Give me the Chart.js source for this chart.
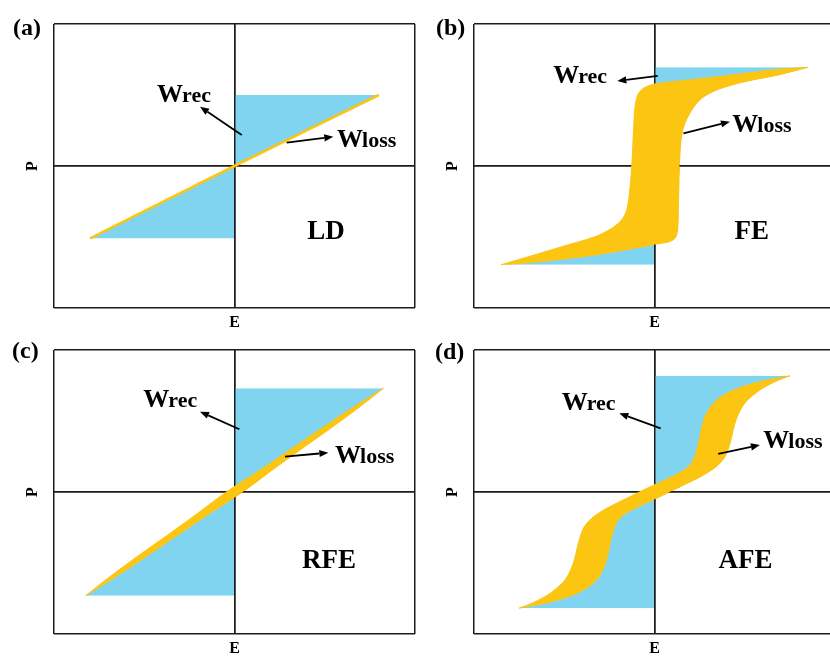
<!DOCTYPE html>
<html>
<head>
<meta charset="utf-8">
<script src="https://cdn.jsdelivr.net/npm/chart.js@4.4.0/dist/chart.umd.min.js"></script>
<style>
  html, body { margin: 0; padding: 0; background: #fff; }
  body { width: 830px; height: 657px; overflow: hidden; position: relative; }
  canvas { position: absolute; }
</style>
</head>
<body>
<canvas id="pa" width="420" height="335" style="left:0;top:0"></canvas>
<canvas id="pb" width="420" height="335" style="left:420px;top:0"></canvas>
<canvas id="pc" width="420" height="335" style="left:0;top:326px"></canvas>
<canvas id="pd" width="420" height="335" style="left:420px;top:326px"></canvas>
<script>
// P–E loops, normalised so that the plot frame spans -1..1 on both axes.
// Each branch lists E against increasing P.

// (a) linear dielectric: a single straight line
const ldP = [-0.51, 0, 0.50];
const ldE = [-0.80, 0, 0.80];

// (b) ferroelectric
const feAscP  = [-0.695, -0.681, -0.657, -0.627, -0.587, -0.552, -0.535, -0.509, -0.451, -0.310, 0, 0.183, 0.289, 0.394, 0.477, 0.540, 0.594, 0.641, 0.695];
const feAscE  = [-0.850, -0.699, -0.514, -0.330, -0.145, 0.000, 0.076, 0.114, 0.128, 0.132, 0.138, 0.147, 0.165, 0.206, 0.261, 0.354, 0.501, 0.686, 0.850];
const feDescP = [-0.695, -0.639, -0.568, -0.498, -0.439, -0.380, -0.310, -0.192, 0, 0.230, 0.418, 0.500, 0.547, 0.577, 0.601, 0.624, 0.653, 0.681, 0.695];
const feDescE = [-0.850, -0.699, -0.514, -0.330, -0.237, -0.182, -0.154, -0.139, -0.126, -0.117, -0.108, -0.093, -0.062, 0.000, 0.151, 0.317, 0.501, 0.686, 0.850];

// (c) relaxor ferroelectric: slim loop
const rfeP     = [-0.73, -0.60, -0.45, -0.30, -0.15, 0, 0.15, 0.30, 0.45, 0.60, 0.73];
const rfeAscE  = [-0.825, -0.662, -0.484, -0.311, -0.136, 0.045, 0.204, 0.367, 0.534, 0.694, 0.825];
const rfeDescE = [-0.825, -0.694, -0.534, -0.367, -0.204, -0.045, 0.136, 0.311, 0.484, 0.662, 0.825];

// (d) antiferroelectric: double loop
const afeAscP  = [-0.818, -0.777, -0.718, -0.648, -0.577, -0.484, -0.343, -0.225, -0.167, -0.113, -0.049, -0.002, 0.056, 0.115, 0.185, 0.256, 0.361, 0.502, 0.620, 0.714, 0.779, 0.818];
const afeAscE  = [-0.750, -0.584, -0.437, -0.345, -0.298, -0.267, -0.243, -0.215, -0.178, -0.104, 0.003, 0.080, 0.173, 0.265, 0.348, 0.394, 0.422, 0.450, 0.496, 0.579, 0.671, 0.750];
const afeDescP = [-0.818, -0.779, -0.714, -0.620, -0.502, -0.361, -0.256, -0.185, -0.115, -0.056, 0.002, 0.049, 0.113, 0.167, 0.225, 0.343, 0.484, 0.577, 0.648, 0.718, 0.777, 0.818];
const afeDescE = [-0.750, -0.671, -0.579, -0.496, -0.450, -0.422, -0.394, -0.348, -0.265, -0.173, -0.080, -0.003, 0.104, 0.178, 0.215, 0.243, 0.267, 0.298, 0.345, 0.437, 0.584, 0.750];

const panelTags  = ['(a)', '(b)', '(c)', '(d)'];
const panelNames = ['LD', 'FE', 'RFE', 'AFE'];
const axisTicks  = [-1, 0, 1];   // frame edges and the E = 0 / P = 0 cross
const recText = 'rec';
const lossText = 'loss';

// ---- styling ----
const BLUE = '#80d4f0';
const GOLD = '#fcc512';
const INK = '#1c1c1c';
const SERIF = '"Times New Roman", "Liberation Serif", serif';

// annotation placement in data units (E, P)
const layoutNotes = [
  { rec: [-0.429, 0.453], recArrow: [0.040, 0.218, -0.191, 0.418],
    loss: [0.568, 0.134], lossArrow: [0.289, 0.164, 0.547, 0.206],
    name: [0.507, -0.514], tag: [-41, 11] },
  { rec: [-0.561, 0.582], recArrow: [0.018, 0.634, -0.206, 0.599],
    loss: [0.431, 0.237], lossArrow: [0.160, 0.230, 0.418, 0.312],
    name: [0.539, -0.514], tag: [-38, 11] },
  { rec: [-0.505, 0.601], recArrow: [0.027, 0.442, -0.191, 0.566],
    loss: [0.557, 0.202], lossArrow: [0.280, 0.249, 0.520, 0.277],
    name: [0.524, -0.533], tag: [-42, 7.5] },
  { rec: [-0.514, 0.577], recArrow: [0.034, 0.448, -0.195, 0.554],
    loss: [0.603, 0.308], lossArrow: [0.353, 0.268, 0.584, 0.331],
    name: [0.504, -0.533], tag: [-39, 9] }
];

function points(E, P) {
  return E.map((e, i) => ({ x: e, y: P[i] }));
}

function arrow(ctx, x1, y1, x2, y2) {
  const ang = Math.atan2(y2 - y1, x2 - x1);
  const len = 9, half = 3.6;
  const bx = x2 - len * Math.cos(ang), by = y2 - len * Math.sin(ang);
  ctx.beginPath();
  ctx.moveTo(x1, y1);
  ctx.lineTo(bx, by);
  ctx.stroke();
  ctx.beginPath();
  ctx.moveTo(x2, y2);
  ctx.lineTo(bx + half * Math.sin(ang), by - half * Math.cos(ang));
  ctx.lineTo(bx - half * Math.sin(ang), by + half * Math.cos(ang));
  ctx.closePath();
  ctx.fill();
}

function wLabel(ctx, x, y, sub) {
  ctx.textAlign = 'left';
  ctx.textBaseline = 'alphabetic';
  ctx.font = `bold 26px ${SERIF}`;
  ctx.fillText('W', x, y);
  const w = ctx.measureText('W').width;
  ctx.font = `bold 22px ${SERIF}`;
  ctx.fillText(sub, x + w - 1, y);
}

function alignLine(p, w) {
  return Math.round(p - w / 2) + w / 2;
}

// draws the E = 0 / P = 0 cross above the W_rec fill, then the labels and arrows
function annotations(note, tag, name) {
  return {
    id: 'annotations',
    afterDatasetDraw(chart, args) {
      if (args.index !== 0) return;
      const { ctx, chartArea: a, scales: { x, y } } = chart;
      const px = alignLine(x.getPixelForValue(0), 1.5);
      const py = alignLine(y.getPixelForValue(0), 1.5);
      ctx.save();
      ctx.strokeStyle = INK;
      ctx.lineWidth = 1.5;
      ctx.beginPath();
      ctx.moveTo(px, a.top); ctx.lineTo(px, a.bottom);
      ctx.moveTo(a.left, py); ctx.lineTo(a.right, py);
      ctx.stroke();
      ctx.restore();
    },
    afterDraw(chart) {
      const { ctx, chartArea: a, scales: { x, y } } = chart;
      const X = v => x.getPixelForValue(v), Y = v => y.getPixelForValue(v);
      ctx.save();
      ctx.fillStyle = '#000';
      ctx.strokeStyle = '#000';
      ctx.lineWidth = 1.8;
      wLabel(ctx, X(note.rec[0]), Y(note.rec[1]), recText);
      wLabel(ctx, X(note.loss[0]), Y(note.loss[1]), lossText);
      const r = note.recArrow, l = note.lossArrow;
      arrow(ctx, X(r[0]), Y(r[1]), X(r[2]), Y(r[3]));
      arrow(ctx, X(l[0]), Y(l[1]), X(l[2]), Y(l[3]));
      ctx.font = `bold 27px ${SERIF}`;
      ctx.textAlign = 'center';
      ctx.fillText(name, X(note.name[0]), Y(note.name[1]));
      ctx.font = `bold 24px ${SERIF}`;
      ctx.textAlign = 'left';
      ctx.fillText(tag, a.left + note.tag[0], a.top + note.tag[1]);
      ctx.restore();
    }
  };
}

const loops = [
  { id: 'pa', asc: points(ldE, ldP),          desc: points(ldE, ldP),          edge: 2.6 },
  { id: 'pb', asc: points(feAscE, feAscP),    desc: points(feDescE, feDescP),  edge: 1 },
  { id: 'pc', asc: points(rfeAscE, rfeP),     desc: points(rfeDescE, rfeP),    edge: 1 },
  { id: 'pd', asc: points(afeAscE, afeAscP),  desc: points(afeDescE, afeDescP), edge: 1 }
];

function axis(title, pad) {
  return {
    type: 'linear', min: -1, max: 1,
    afterBuildTicks: s => { s.ticks = axisTicks.map(v => ({ value: v })); },
    ticks: { display: false },
    grid: { color: INK, lineWidth: 1.5, drawTicks: false },
    border: { display: false },
    title: { display: true, text: title, color: '#000', padding: pad,
             font: { family: SERIF, size: 16, weight: 'bold' } }
  };
}

loops.forEach((loop, i) => {
  new Chart(document.getElementById(loop.id), {
    type: 'line',
    data: {
      datasets: [
        { // W_rec: area between the branch and the P axis (E = 0)
          data: loop.asc, fill: 'origin', backgroundColor: BLUE,
          borderColor: GOLD, borderWidth: 1, tension: 0.3, pointRadius: 0, order: 2 },
        { // W_loss: area enclosed by the two branches
          data: loop.desc, fill: 0, backgroundColor: GOLD,
          borderColor: GOLD, borderWidth: loop.edge, tension: 0.3, pointRadius: 0, order: 1 }
      ]
    },
    options: {
      indexAxis: 'y',
      responsive: false,
      animation: false,
      events: [],
      layout: { padding: { left: 0, right: 5, top: 24, bottom: 0 } },
      plugins: { legend: { display: false }, tooltip: { enabled: false } },
      scales: {
        x: axis('E', { top: 4.9, bottom: 2.9 }),
        y: axis('P', { top: 22.9, bottom: 11.9 })
      }
    },
    plugins: [annotations(layoutNotes[i], panelTags[i], panelNames[i])]
  });
});
</script>
</body>
</html>
